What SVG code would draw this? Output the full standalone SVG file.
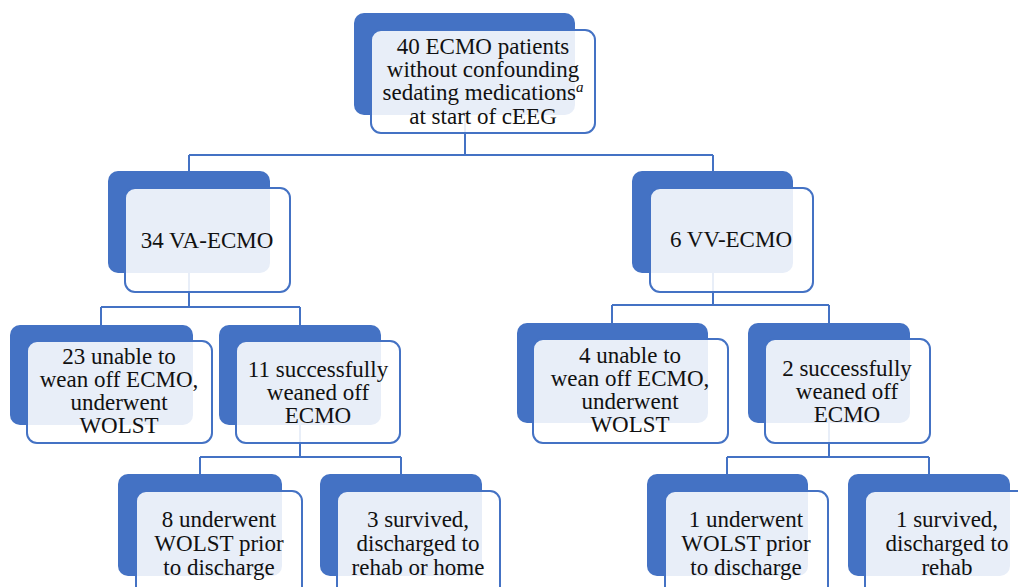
<svg xmlns="http://www.w3.org/2000/svg" width="1018" height="587" viewBox="0 0 1018 587">
<style>
.back{fill:#4472C4;}
.front{fill:#ffffff;fill-opacity:0.88;stroke:#4472C4;stroke-width:2;}
.conn{fill:none;stroke:#4472C4;stroke-width:2;}
.t text{font-family:'Liberation Serif','Noto Serif','DejaVu Serif',FreeSerif,Tinos,'Times New Roman',Times,Georgia,serif;font-size:23px;fill:#111;text-anchor:middle;}
</style>
<rect width="1018" height="587" fill="#ffffff"/>
<g id="connectors">
<path class="conn" d="M465 115V155M189 155H713M189 155V171M713 155V171"/>
<path class="conn" d="M189 273V307M101 307H300M101 307V325M300 307V325"/>
<path class="conn" d="M713 273V305M612 305H829M612 305V323M829 305V323"/>
<path class="conn" d="M300 425V457M200 457H401M200 457V474M401 457V474"/>
<path class="conn" d="M829 423V457M727 457H929M727 457V474M929 457V474"/>
</g>
<g id="n-root" class="t">
<rect class="back" x="354" y="13" width="221" height="102" rx="10"/>
<rect class="front" x="371" y="30" width="224" height="103" rx="10"/>
<text x="483" y="54">40 ECMO patients</text>
<text x="483" y="77">without confounding</text>
<text x="483" y="100">sedating medications<tspan font-style="italic" font-size="15" dy="-8">a</tspan></text>
<text x="483" y="124">at start of cEEG</text>
</g>
<g id="n-va" class="t">
<rect class="back" x="108" y="171" width="162" height="102" rx="10"/>
<rect class="front" x="125" y="188" width="165" height="104" rx="10"/>
<text x="207" y="248">34 VA-ECMO</text>
</g>
<g id="n-vv" class="t">
<rect class="back" x="632" y="171" width="161" height="102" rx="10"/>
<rect class="front" x="650" y="188" width="163" height="104" rx="10"/>
<text x="731" y="247">6 VV-ECMO</text>
</g>
<g id="n-va-unable" class="t">
<rect class="back" x="10" y="325" width="183" height="100" rx="10"/>
<rect class="front" x="27" y="341" width="185" height="102" rx="10"/>
<text x="119" y="364">23 unable to</text>
<text x="119" y="387">wean off ECMO,</text>
<text x="119" y="410">underwent</text>
<text x="119" y="433">WOLST</text>
</g>
<g id="n-va-weaned" class="t">
<rect class="back" x="219" y="325" width="162" height="100" rx="10"/>
<rect class="front" x="236" y="341" width="164" height="102" rx="10"/>
<text x="318" y="377">11 successfully</text>
<text x="318" y="400">weaned off</text>
<text x="318" y="423">ECMO</text>
</g>
<g id="n-vv-unable" class="t">
<rect class="back" x="517" y="323" width="191" height="100" rx="10"/>
<rect class="front" x="533" y="339" width="195" height="104" rx="10"/>
<text x="630" y="363">4 unable to</text>
<text x="630" y="386">wean off ECMO,</text>
<text x="630" y="409">underwent</text>
<text x="630" y="432">WOLST</text>
</g>
<g id="n-vv-weaned" class="t">
<rect class="back" x="748" y="323" width="162" height="100" rx="10"/>
<rect class="front" x="765" y="339" width="165" height="104" rx="10"/>
<text x="847" y="376">2 successfully</text>
<text x="847" y="399">weaned off</text>
<text x="847" y="422">ECMO</text>
</g>
<g id="n-va-wolst" class="t">
<rect class="back" x="118" y="474" width="164" height="102" rx="10"/>
<rect class="front" x="136" y="491" width="166" height="110" rx="10"/>
<text x="219" y="527">8 underwent</text>
<text x="219" y="551">WOLST prior</text>
<text x="219" y="575">to discharge</text>
</g>
<g id="n-va-survived" class="t">
<rect class="back" x="320" y="474" width="162" height="102" rx="10"/>
<rect class="front" x="337" y="491" width="163" height="110" rx="10"/>
<text x="418" y="527">3 survived,</text>
<text x="418" y="551">discharged to</text>
<text x="418" y="575">rehab or home</text>
</g>
<g id="n-vv-wolst" class="t">
<rect class="back" x="647" y="474" width="161" height="102" rx="10"/>
<rect class="front" x="665" y="491" width="163" height="110" rx="10"/>
<text x="746" y="527">1 underwent</text>
<text x="746" y="551">WOLST prior</text>
<text x="746" y="575">to discharge</text>
</g>
<g id="n-vv-survived" class="t">
<rect class="back" x="848" y="474" width="162" height="102" rx="10"/>
<rect class="front" x="865" y="491" width="164" height="110" rx="10"/>
<text x="947" y="527">1 survived,</text>
<text x="947" y="551">discharged to</text>
<text x="947" y="575">rehab</text>
</g>
</svg>
